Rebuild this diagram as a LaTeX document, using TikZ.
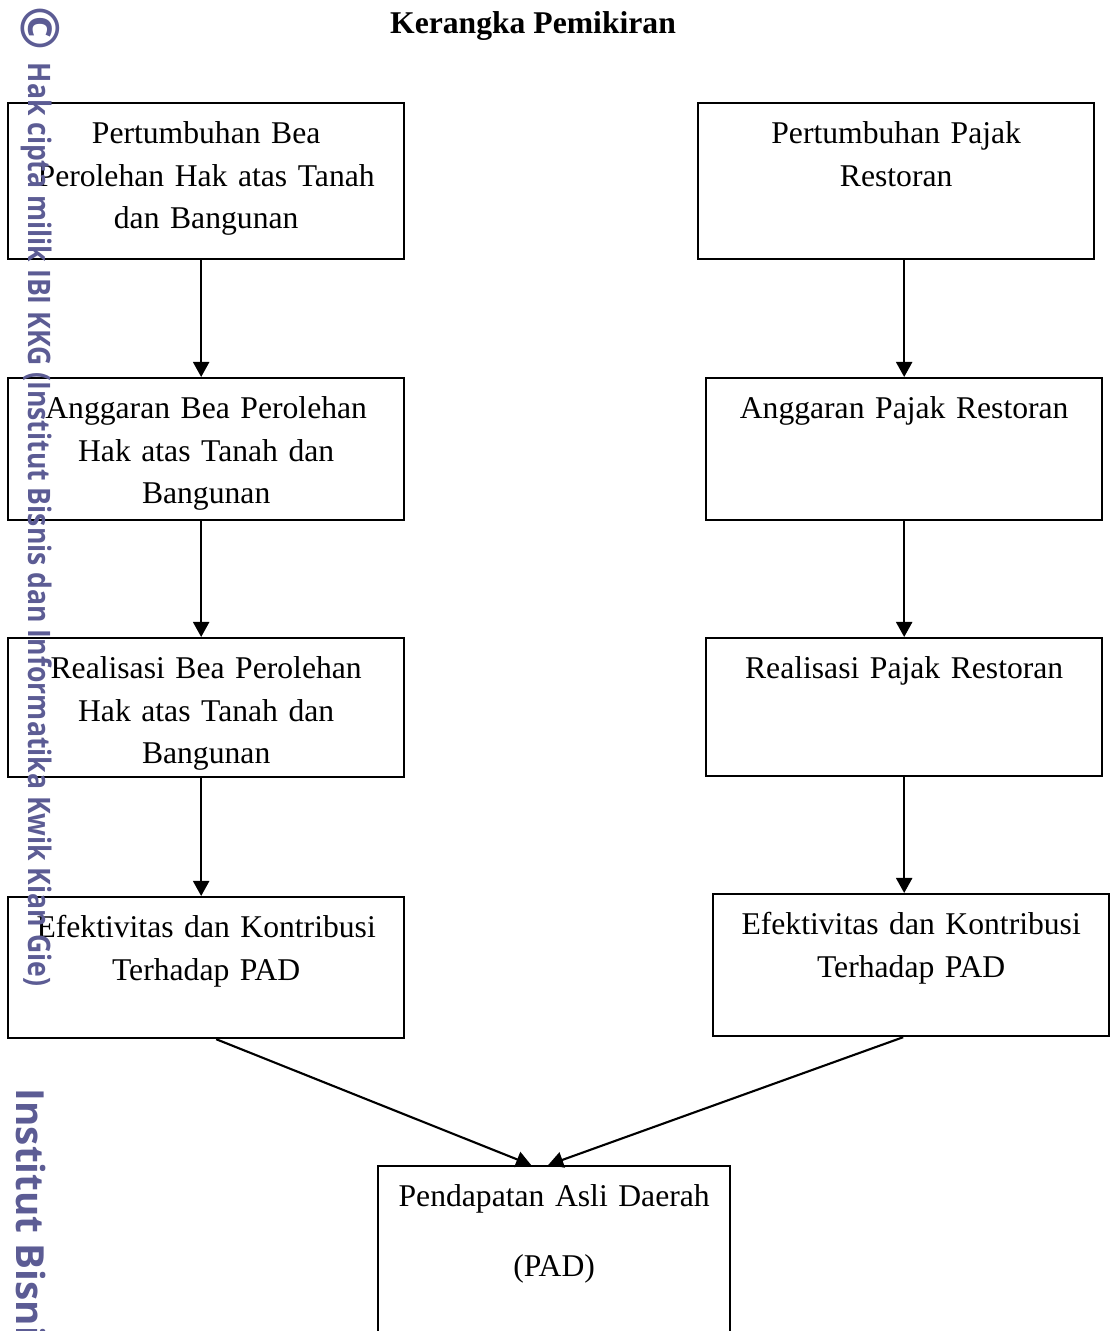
\documentclass[tikz,border=0pt]{standalone}
\usepackage{fontspec}
\setmainfont{Liberation Serif}
\newfontfamily\wmfont{Open Sans}
\usetikzlibrary{arrows.meta, positioning, calc}
\definecolor{wmblue}{HTML}{5C5C94}

\begin{document}
\begin{tikzpicture}[
  x=0.01cm, y=-0.01cm,
  font=\fontsize{9}{12.1}\selectfont,
  >={Triangle[length=1.5mm, width=1.6mm]},
  box/.style={draw, line width=0.6pt, inner sep=0pt, anchor=north west,
              text width=3.96cm, align=center, text height=4.05mm, text depth=#1},
  link/.style={->, line width=0.6pt},
  wmark/.style={wmblue, rotate=-90, anchor=base west, inner sep=0pt},
]
\useasboundingbox (0,0) rectangle (1110,1331);
\clip (0,0) rectangle (1110,1331);

% ---------- title ----------
\node[font=\fontsize{9}{12.1}\selectfont\bfseries] (title) at (533,26) {Kerangka Pemikiran};

% ---------- left column: BPHTB ----------
\node[box=11.55mm] (l1) at (7,102) {Pertumbuhan Bea\\Perolehan Hak atas Tanah\\dan Bangunan};
\node[box=10.15mm] (l2) at (7,377) {Anggaran Bea Perolehan\\Hak atas Tanah dan\\Bangunan};
\node[box=9.85mm]  (l3) at (7,637) {Realisasi Bea Perolehan\\Hak atas Tanah dan\\Bangunan};
\node[box=10.05mm] (l4) at (7,896) {Efektivitas dan Kontribusi\\Terhadap PAD};

% ---------- right column: pajak restoran ----------
\node[box=11.55mm] (r1) at (697,102) {Pertumbuhan Pajak\\Restoran};
\node[box=10.15mm] (r2) at (705,377) {Anggaran Pajak Restoran};
\node[box=9.75mm]  (r3) at (705,637) {Realisasi Pajak Restoran};
\node[box=10.15mm] (r4) at (712,893) {Efektivitas dan Kontribusi\\Terhadap PAD};

% ---------- PAD ----------
\node[box=15.5mm, text width=3.52cm] (pad) at (377,1165) {Pendapatan Asli Daerah\\[2.75mm](PAD)};

% ---------- arrows ----------
\draw[link] ($(l1.south)+(-5,0)$) -- ($(l2.north)+(-5,0)$);
\draw[link] ($(l2.south)+(-5,0)$) -- ($(l3.north)+(-5,0)$);
\draw[link] ($(l3.south)+(-5,0)$) -- ($(l4.north)+(-5,0)$);
\draw[link] (r1.south -| r2.north) -- (r2.north);
\draw[link] (r2.south) -- (r3.north);
\draw[link] (r3.south) -- (r3.south |- r4.north);
\draw[link] ($(l4.south)+(10,0)$) -- ($(pad.north)+(-23,0)$);
\draw[link] ($(r4.south)+(-8,0)$) -- ($(pad.north)+(-6,0)$);

% ---------- watermark ----------
\node[wmblue, rotate=-90, inner sep=0pt, font=\wmfont\bfseries\fontsize{15}{17}\selectfont] (wmc) at (40,28) {©};
\node[wmark, font=\wmfont\bfseries] (wm) at (28,62)
  {\resizebox{9.23cm}{\height}{\fontsize{8.8}{10}\selectfont Hak cipta milik IBI KKG (Institut Bisnis dan Informatika Kwik Kian Gie)}};
\node[wmark, font=\wmfont\bfseries\fontsize{11}{13}\selectfont] (wmbig) at (17,1088) {Institut Bisnis};
\end{tikzpicture}
\end{document}
